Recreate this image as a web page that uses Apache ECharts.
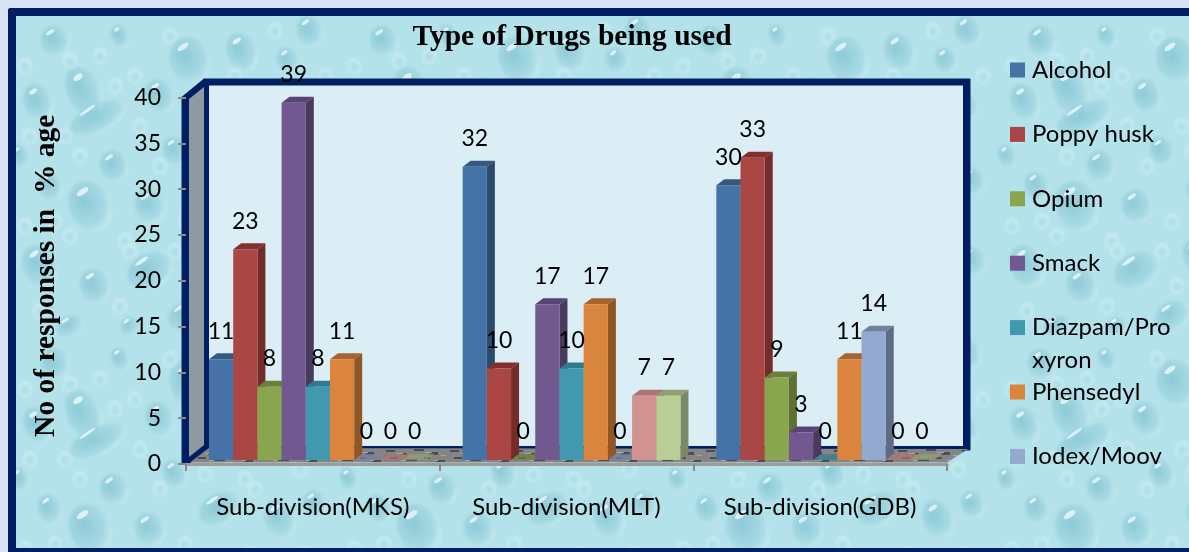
<!DOCTYPE html>
<html><head><meta charset="utf-8">
<style>
html,body{margin:0;padding:0;width:1189px;height:552px;overflow:hidden;background:#d8e4f6}
#panel{position:absolute;left:8px;top:8px;width:1181px;height:544px;box-sizing:border-box;border:8px solid #001f63;border-right:none;border-bottom-width:4px;border-radius:3px 0 0 0;background-color:#b4e2ea}
#chart{position:absolute;left:0;top:0;width:1189px;height:552px}
</style>
<script src="https://cdn.jsdelivr.net/npm/echarts@6/dist/echarts.min.js"></script>
</head><body>
<div id="panel"></div><div id="chart"></div>
<script>
const categories = ['Sub-division(MKS)', 'Sub-division(MLT)', 'Sub-division(GDB)'];
const seriesNames = ['Alcohol', 'Poppy husk', 'Opium', 'Smack', 'Diazpam/Pro xyron', 'Phensedyl', 'Iodex/Moov', 'Series8', 'Series9'];
const legendNames = ['Alcohol', 'Poppy husk', 'Opium', 'Smack', 'Diazpam/Pro xyron', 'Phensedyl', 'Iodex/Moov'];
const alcohol = [11, 32, 30];
const poppyHusk = [23, 10, 33];
const opium = [8, 0, 9];
const smack = [39, 17, 3];
const diazpam = [8, 10, 0];
const phensedyl = [11, 17, 11];
const iodex = [0, 0, 14];
const series8 = [0, 7, 0];
const series9 = [0, 7, 0];
const seriesValues = [alcohol, poppyHusk, opium, smack, diazpam, phensedyl, iodex, series8, series9];
const frontColors = ['#4572a7', '#aa4643', '#89a54e', '#71588f', '#4198af', '#db843d', '#93a9cf', '#d19392', '#b9cd96'];
const sideColors = ['#2c4a6e', '#722c2a', '#5e7133', '#4a3a5e', '#2a6e82', '#8f5626', '#5e6b85', '#8a6060', '#7b8865'];
const topColors = ['#34587f', '#842f2c', '#6a803a', '#5a4274', '#2f7c90', '#a8642c', '#72809f', '#ad7372', '#929f74'];

/* page texture: hand-placed water drops [x, y, rx, ry] in tile space */
const drops = [[180,44,20,24],[232,36,15,20],[278,44,11,13],[74,76,17,27],[28,86,14,19],[150,80,14,18],[88,102,30,14],
[104,150,14,16],[80,190,21,26],[40,170,12,15],[140,190,15,17],[165,135,12,15],[215,105,18,14],[262,110,13,16],[300,90,10,13],
[210,170,22,16],[270,180,15,20],[305,165,12,14],[30,250,17,22],[85,270,15,18],[140,255,24,18],[200,240,14,18],[255,255,18,22],[305,245,13,15],
[45,25,14,16],[110,20,9,12],[300,15,13,16],[175,300,18,14],[60,310,14,10],[250,305,15,12],[10,140,9,12],[120,310,10,9]];
const smallDrops = [[55,120],[125,60],[205,75],[250,80],[15,50],[130,110],[185,110],[235,140],[290,130],[60,220],[115,225],[175,205],[240,215],[295,215],[15,210],[90,40],[160,20],[265,15],[180,270],[110,290],[30,295],[215,285],[290,285],[70,140],[150,150],[195,135],[245,150],[20,120],[105,70],[120,235],[225,60],[315,60],[60,45],[165,235],[280,235],[45,205]];
function tile(){
  let s='<svg xmlns="http://www.w3.org/2000/svg" width="329" height="323"><defs>'+
  '<filter id="f" x="-10%" y="-10%" width="120%" height="120%"><feGaussianBlur stdDeviation="1.4"/></filter>'+
  '<filter id="g" x="-30%" y="-30%" width="160%" height="160%"><feGaussianBlur stdDeviation="0.7"/></filter>'+
  '<radialGradient id="d" cx="0.42" cy="0.38" r="0.66"><stop offset="0" stop-color="#7cbfcf" stop-opacity=".72"/><stop offset="0.7" stop-color="#96d0dc" stop-opacity=".48"/><stop offset="1" stop-color="#dcf4f8" stop-opacity=".65"/></radialGradient>'+
  '</defs><rect width="329" height="323" fill="#b4e2ea"/><g filter="url(#f)">';
  drops.forEach(d=>{
    s+='<ellipse cx="'+d[0]+'" cy="'+d[1]+'" rx="'+d[2]+'" ry="'+d[3]+'" fill="url(#d)" transform="rotate(-25 '+d[0]+' '+d[1]+')"/>';
  });
  smallDrops.forEach(d=>{
    s+='<ellipse cx="'+d[0]+'" cy="'+d[1]+'" rx="7" ry="8" fill="#d2f0f5" opacity=".6"/><ellipse cx="'+d[0]+'" cy="'+(d[1]+1)+'" rx="4.5" ry="5" fill="#9ad3de" opacity=".5"/>';
  });
  s+='</g><g filter="url(#g)">';
  drops.forEach(d=>{
    s+='<ellipse cx="'+(d[0]-d[2]*0.35)+'" cy="'+(d[1]-d[3]*0.55)+'" rx="'+(d[2]*0.32)+'" ry="'+(Math.max(1.6,d[3]*0.11))+'" fill="#f2fcfd" opacity=".75" transform="rotate(-35 '+(d[0]-d[2]*0.35)+' '+(d[1]-d[3]*0.55)+')"/>';
  });
  return s+'</g></svg>';
}
const panel=document.getElementById('panel');
panel.style.backgroundImage='url("data:image/svg+xml,'+encodeURIComponent(tile())+'")';
panel.style.backgroundPosition='-6px 0';
panel.style.backgroundOrigin='padding-box';

/* speckled floor fill */
function floorPattern(){
  const c=document.createElement('canvas');c.width=64;c.height=16;
  const g=c.getContext('2d');g.fillStyle='#858585';g.fillRect(0,0,64,16);
  const marks=[[2,2,9,2],[16,5,7,2],[30,1,10,2],[46,4,8,3],[6,9,8,2],[22,11,11,2],[40,9,6,2],[52,12,9,2]];
  g.fillStyle='#4e4e4e';marks.forEach(m=>g.fillRect(m[0],m[1],m[2],m[3]));
  g.fillStyle='#a8a8a8';marks.forEach(m=>g.fillRect((m[0]+11)%64,(m[1]+3)%16,m[2]-3,1));
  return c;
}

const depthX = 8, depthY = 6;
const plotShiftX = 23, plotShiftY = -4;
const chart = echarts.init(document.getElementById('chart'));

function render(si){
  return function(params, api){
    const cat = api.value(0), v = api.value(1);
    const p = api.coord([cat, v]), p0 = api.coord([cat, 0]);
    const band = api.size([1, 0])[0];
    const w = band * 0.0954;
    const x = p[0] - band / 2 + plotShiftX + si * w;
    const yT = p[1] + plotShiftY, yB = p0[1] + plotShiftY;
    const kids = [];
    const tp = [[x, yT], [x + depthX, yT - depthY], [x + w + depthX, yT - depthY], [x + w, yT]];
    kids.push({type:'polygon', shape:{points:tp}, style:{fill:topColors[si], opacity: v === 0 ? 0.7 : 1}});
    if (v > 0) {
      kids.push({type:'polygon', shape:{points:[[x + w, yT], [x + w + depthX, yT - depthY], [x + w + depthX, yB - depthY], [x + w, yB]]}, style:{fill:sideColors[si]}});
      kids.push({type:'rect', shape:{x:x, y:yT, width:w, height:yB - yT}, style:{fill:frontColors[si]}});
    }
    kids.push({type:'text', z2:100, style:{text:String(v), x:x + w / 2, y:yT - 28, align:'center', verticalAlign:'middle', fill:'#000', font:'23px Lato'}});
    return {type:'group', children:kids};
  };
}

const navy = '#001f63';
const decor = [
  {type:'rect', z:0, shape:{x:203, y:78.5, width:767.5, height:372, r:1}, style:{fill:navy}},
  {type:'rect', z:0, shape:{x:209, y:85.5, width:754, height:360.5}, style:{fill:'#dceef5'}},
  {type:'polygon', z:0, shape:{points:[[181.5,97],[204,78.5],[209,85],[209,448],[188,465],[181.5,465]]}, style:{fill:navy}},
  {type:'polygon', z:0, shape:{points:[[189,99],[204,87],[204,445],[189,457]]}, style:{fill:'#8d9aa1'}},
  {type:'polygon', z:0, shape:{points:[[190,462.5],[209,448],[968,449],[947,462.5]]}, style:{fill:{image:floorPattern(), repeat:'repeat'}}},
  {type:'text', z:5, style:{text:'xyron', x:1032, y:360, verticalAlign:'middle', fill:'#000', font:'24px Lato'}}
];

chart.setOption({
  animation:false,
  backgroundColor:'transparent',
  title:{text:'Type of Drugs being used', left:567, top:17, textAlign:'center',
    textStyle:{fontFamily:'Liberation Serif', fontWeight:'bold', fontSize:29.5, color:'#000'}},
  legend:{data:legendNames, orient:'vertical', left:1005, top:53, icon:'rect', itemWidth:15, itemHeight:15,
    itemGap:40.4, selectedMode:false,
    formatter:n=>n.indexOf('Diazpam')===0 ? n.split(' ')[0] : n,
    textStyle:{fontFamily:'Lato', fontSize:24, color:'#000', lineHeight:20, padding:[0,0,0,2]}},
  grid:{left:186, top:97.5, width:761, height:366.5, containLabel:false},
  xAxis:{type:'category', data:categories,
    axisLine:{show:true, lineStyle:{color:'#9c9c9c', width:3}},
    axisTick:{show:true, length:7, lineStyle:{color:'#8a8a8a', width:2}},
    axisLabel:{margin:31, fontFamily:'Lato', fontSize:24, color:'#000'}},
  yAxis:{type:'value', min:0, max:40, interval:5, name:'No of responses in  % age', nameLocation:'middle', nameGap:125,
    nameTextStyle:{fontFamily:'Liberation Serif', fontWeight:'bold', fontSize:29.5, color:'#000', padding:[0,0,0,10]},
    axisLine:{show:false}, splitLine:{show:false},
    axisTick:{show:true, length:8, lineStyle:{color:'#8a8a8a', width:2}},
    axisLabel:{margin:25, fontFamily:'Lato', fontSize:23, color:'#000'}},
  graphic:decor,
  series:seriesNames.map((name,si)=>({
    type:'custom', name:name, z:3, coordinateSystem:'cartesian2d',
    itemStyle:{color:frontColors[si]},
    encode:{x:0, y:1},
    data:categories.map((c,ci)=>[ci, seriesValues[si][ci]]),
    renderItem:render(si)
  }))
});
</script>
</body></html>
